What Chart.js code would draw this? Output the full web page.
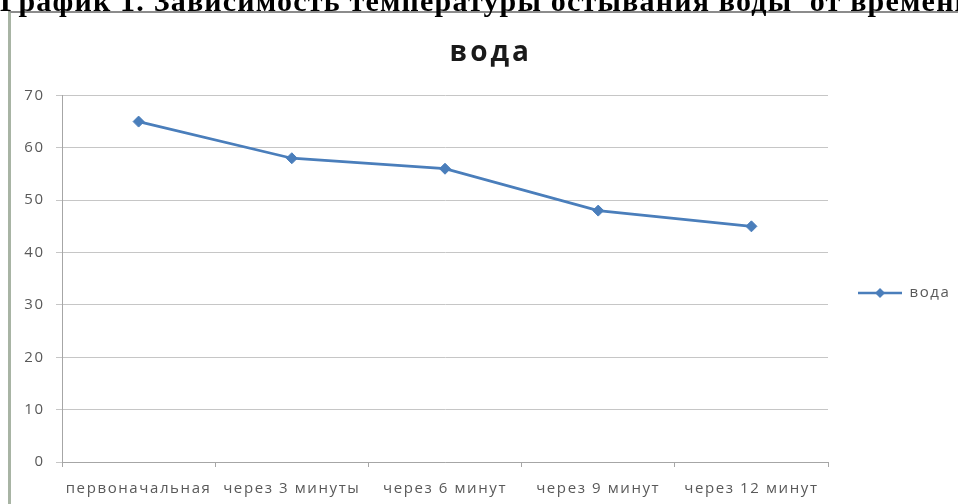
<!DOCTYPE html>
<html lang="ru">
<head>
<meta charset="utf-8">
<title>вода</title>
<script src="https://cdn.jsdelivr.net/npm/chart.js@4/dist/chart.umd.min.js"></script>
<style>
  html, body { margin: 0; padding: 0; }
  body { width: 958px; height: 504px; overflow: hidden; background: #fff; position: relative; }
  #frame {
    position: absolute; left: 8px; top: 11px; width: 1000px; height: 600px;
    border-left: 3px solid #a8b4a4; border-top: 2px solid #8c8c8c; background: #fff;
  }
  #heading {
    position: absolute; left: 0; top: -16px; line-height: 30px; white-space: nowrap;
    font: bold 30px "Liberation Serif", "DejaVu Serif", serif; letter-spacing: 1.2px; color: #000;
  }
  #chart { position: absolute; left: 0; top: 0; }
</style>
</head>
<body>
<div id="frame"></div>
<canvas id="chart" width="958" height="504"></canvas>
<div id="heading">График 1. Зависимость температуры остывания воды&nbsp; от времени</div>
<script>
// Water cooling: temperature readings every 3 minutes
const categories = ['первоначальная', 'через 3 минуты', 'через 6 минут', 'через 9 минут', 'через 12 минут'];
const temperatures = [65, 58, 56, 48, 45];
const seriesName = 'вода';
const yMin = 0;
const yMax = 70;
const yStep = 10;

const seriesColor = '#4a7ebb';
const textColor = '#595959';

// Wide letter tracking for the chart texts, chosen by font size
const tracking = { '28': 3, '15': 1.6 };
const ctxProto = CanvasRenderingContext2D.prototype;
['fillText', 'measureText'].forEach(function (name) {
  const original = ctxProto[name];
  ctxProto[name] = function () {
    const m = /(\d+(?:\.\d+)?)px/.exec(this.font);
    const s = m && tracking[m[1]] !== undefined ? tracking[m[1]] : 0;
    if ('letterSpacing' in this) this.letterSpacing = s + 'px';
    return original.apply(this, arguments);
  };
});

// Legend symbol: a short line with a diamond in the middle
function legendSymbol() {
  const c = document.createElement('canvas');
  c.width = 44; c.height = 12;
  const g = c.getContext('2d');
  g.strokeStyle = seriesColor;
  g.lineWidth = 2.5;
  g.beginPath(); g.moveTo(0, 6); g.lineTo(44, 6); g.stroke();
  g.fillStyle = seriesColor;
  g.beginPath(); g.moveTo(22, 1); g.lineTo(27, 6); g.lineTo(22, 11); g.lineTo(17, 6); g.closePath(); g.fill();
  return c;
}

// The chart title sits a little right of the canvas centre
const titleShift = {
  id: 'titleShift',
  afterLayout(chart) {
    if (chart.titleBlock) chart.titleBlock.left = 21;
  }
};

Chart.defaults.font.family = '"Open Sans", "DejaVu Sans", sans-serif';
Chart.defaults.color = textColor;

new Chart(document.getElementById('chart'), {
  type: 'line',
  data: {
    labels: categories,
    datasets: [{
      label: seriesName,
      data: temperatures,
      borderColor: seriesColor,
      backgroundColor: seriesColor,
      borderWidth: 2.75,
      pointStyle: 'rectRot',
      pointRadius: 5.5,
      pointBorderWidth: 1,
      pointBackgroundColor: seriesColor,
      pointBorderColor: seriesColor,
      tension: 0,
      fill: false
    }]
  },
  plugins: [titleShift],
  options: {
    responsive: false,
    animation: false,
    events: [],
    layout: { padding: { left: 0, right: -2.5, top: 0, bottom: 0 } },
    plugins: {
      title: {
        display: true,
        text: seriesName,
        color: '#1a1a1a',
        font: { size: 28, weight: 'bold', lineHeight: 1.2 },
        padding: { top: 36.2, bottom: 25.6 }
      },
      legend: {
        position: 'right',
        align: 'start',
        title: { display: true, text: '', font: { size: 10, lineHeight: 1 }, padding: { top: 245.5, bottom: 0 } },
        labels: {
          usePointStyle: true,
          pointStyle: legendSymbol(),
          pointStyleWidth: 44,
          padding: 30,
          color: textColor,
          font: { size: 15 }
        }
      },
      tooltip: { enabled: false }
    },
    scales: {
      x: {
        offset: true,
        grid: { offset: true, drawOnChartArea: false, drawTicks: true, tickLength: 5, color: '#a6a6a6' },
        border: { display: true, color: '#a6a6a6' },
        ticks: { autoSkip: false, maxRotation: 0, minRotation: 0, padding: 13, color: textColor, font: { size: 15 } },
        afterFit(scale) { scale.height = 42; }
      },
      y: {
        min: yMin,
        max: yMax,
        ticks: { stepSize: yStep, padding: 11.4, color: textColor, font: { size: 15 } },
        grid: { color: '#c6c6c6', tickLength: 6, drawTicks: true },
        border: { display: true, color: '#a6a6a6' },
        afterFit(scale) { scale.width = 62; }
      }
    }
  }
});
</script>
</body>
</html>
